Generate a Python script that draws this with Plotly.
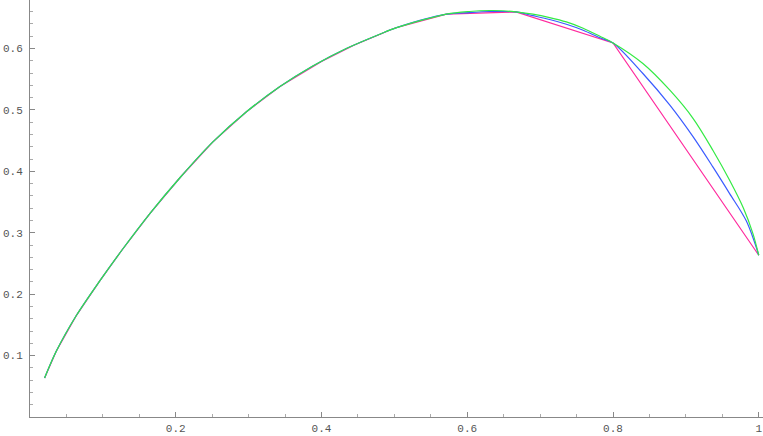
import plotly.graph_objects as go

# exact curve (green)
green_x = [0.020, 0.036, 0.064, 0.096, 0.126, 0.165, 0.206, 0.251, 0.297, 0.343,
           0.388, 0.434, 0.480, 0.503, 0.5714, 0.603, 0.631, 0.649, 0.6667, 0.690,
           0.713, 0.736, 0.759, 0.782, 0.800, 0.841, 0.878, 0.910, 0.937, 0.960,
           0.979, 0.992, 1.000]
green_y = [0.0635, 0.1070, 0.166, 0.222, 0.2715, 0.332, 0.390, 0.448, 0.497, 0.538,
           0.5715, 0.600, 0.6233, 0.634, 0.6559, 0.6603, 0.6619, 0.6615, 0.6596, 0.6559,
           0.6504, 0.6433, 0.633, 0.620, 0.6091, 0.5756, 0.5321, 0.486, 0.4344, 0.3855,
           0.340, 0.2987, 0.2634]

# blue approximation: follows the exact curve up to 4/7, then sags between nodes
blue_x = [0.020, 0.036, 0.064, 0.096, 0.126, 0.165, 0.206, 0.251, 0.297, 0.343,
          0.388, 0.434, 0.480, 0.503, 0.5714, 0.603, 0.631, 0.649, 0.6667, 0.690,
          0.713, 0.736, 0.759, 0.782, 0.800, 0.841, 0.878, 0.910, 0.937, 0.960,
          0.983, 1.000]
blue_y = [0.0635, 0.1070, 0.166, 0.222, 0.2715, 0.332, 0.390, 0.448, 0.497, 0.538,
          0.5715, 0.600, 0.6233, 0.634, 0.6559, 0.6586, 0.6603, 0.6603, 0.6596, 0.6535,
          0.6472, 0.6395, 0.6298, 0.6175, 0.6091, 0.5593, 0.5077, 0.456, 0.4072, 0.3638,
          0.3190, 0.2634]

# pink: straight segments between the nodes
pink_x = [0.020, 0.036, 0.064, 0.096, 0.126, 0.165, 0.206, 0.251, 0.297, 0.343,
          0.400, 0.4444, 0.500, 0.5714, 0.6667, 0.800, 1.000]
pink_y = [0.0635, 0.1070, 0.166, 0.222, 0.2715, 0.332, 0.390, 0.448, 0.497, 0.538,
          0.579, 0.6052, 0.633, 0.6559, 0.6596, 0.6091, 0.2634]

x_ticks = [0.2, 0.4, 0.6, 0.8, 1.0]
x_tick_text = ["0.2", "0.4", "0.6", "0.8", "1"]
y_ticks = [0.1, 0.2, 0.3, 0.4, 0.5, 0.6]
y_tick_text = ["0.1", "0.2", "0.3", "0.4", "0.5", "0.6"]

fig = go.Figure()

fig.add_trace(go.Scatter(x=pink_x, y=pink_y, mode="lines",
                         line=dict(color="#FF2A9D", width=1.2), hoverinfo="skip"))
fig.add_trace(go.Scatter(x=blue_x, y=blue_y, mode="lines", line_shape="spline",
                         line=dict(color="#3A5BFF", width=1.2, smoothing=0.9),
                         hoverinfo="skip"))
fig.add_trace(go.Scatter(x=green_x, y=green_y, mode="lines", line_shape="spline",
                         line=dict(color="#33EA44", width=1.2, smoothing=0.9),
                         hoverinfo="skip"))

axis_font = dict(family="Liberation Mono", size=11, color="#555555")

fig.update_layout(
    xaxis=dict(
        range=[0, 1.0058],
        tickvals=x_ticks, ticktext=x_tick_text,
        ticks="inside", ticklen=5, tickcolor="#888888", tickwidth=1,
        minor=dict(dtick=0.05, ticks="inside", ticklen=3, tickcolor="#aaaaaa"),
        showline=True, linecolor="#888888", linewidth=1,
        showgrid=False, zeroline=False,
        tickfont=axis_font, ticklabelstandoff=1,
    ),
    yaxis=dict(
        range=[0, 0.679],
        tickvals=y_ticks, ticktext=y_tick_text,
        ticks="inside", ticklen=5, tickcolor="#888888", tickwidth=1,
        minor=dict(dtick=0.02, ticks="inside", ticklen=3, tickcolor="#aaaaaa"),
        showline=True, linecolor="#888888", linewidth=1,
        showgrid=False, zeroline=False,
        tickfont=axis_font, ticklabelstandoff=4,
    ),
    plot_bgcolor="white",
    paper_bgcolor="white",
    showlegend=False,
    width=763, height=436,
    margin=dict(l=30, r=0, t=0, b=19, autoexpand=False),
)

fig.write_html("out.html", config={"displayModeBar": False},
               post_script="document.body.style.margin='0';")
